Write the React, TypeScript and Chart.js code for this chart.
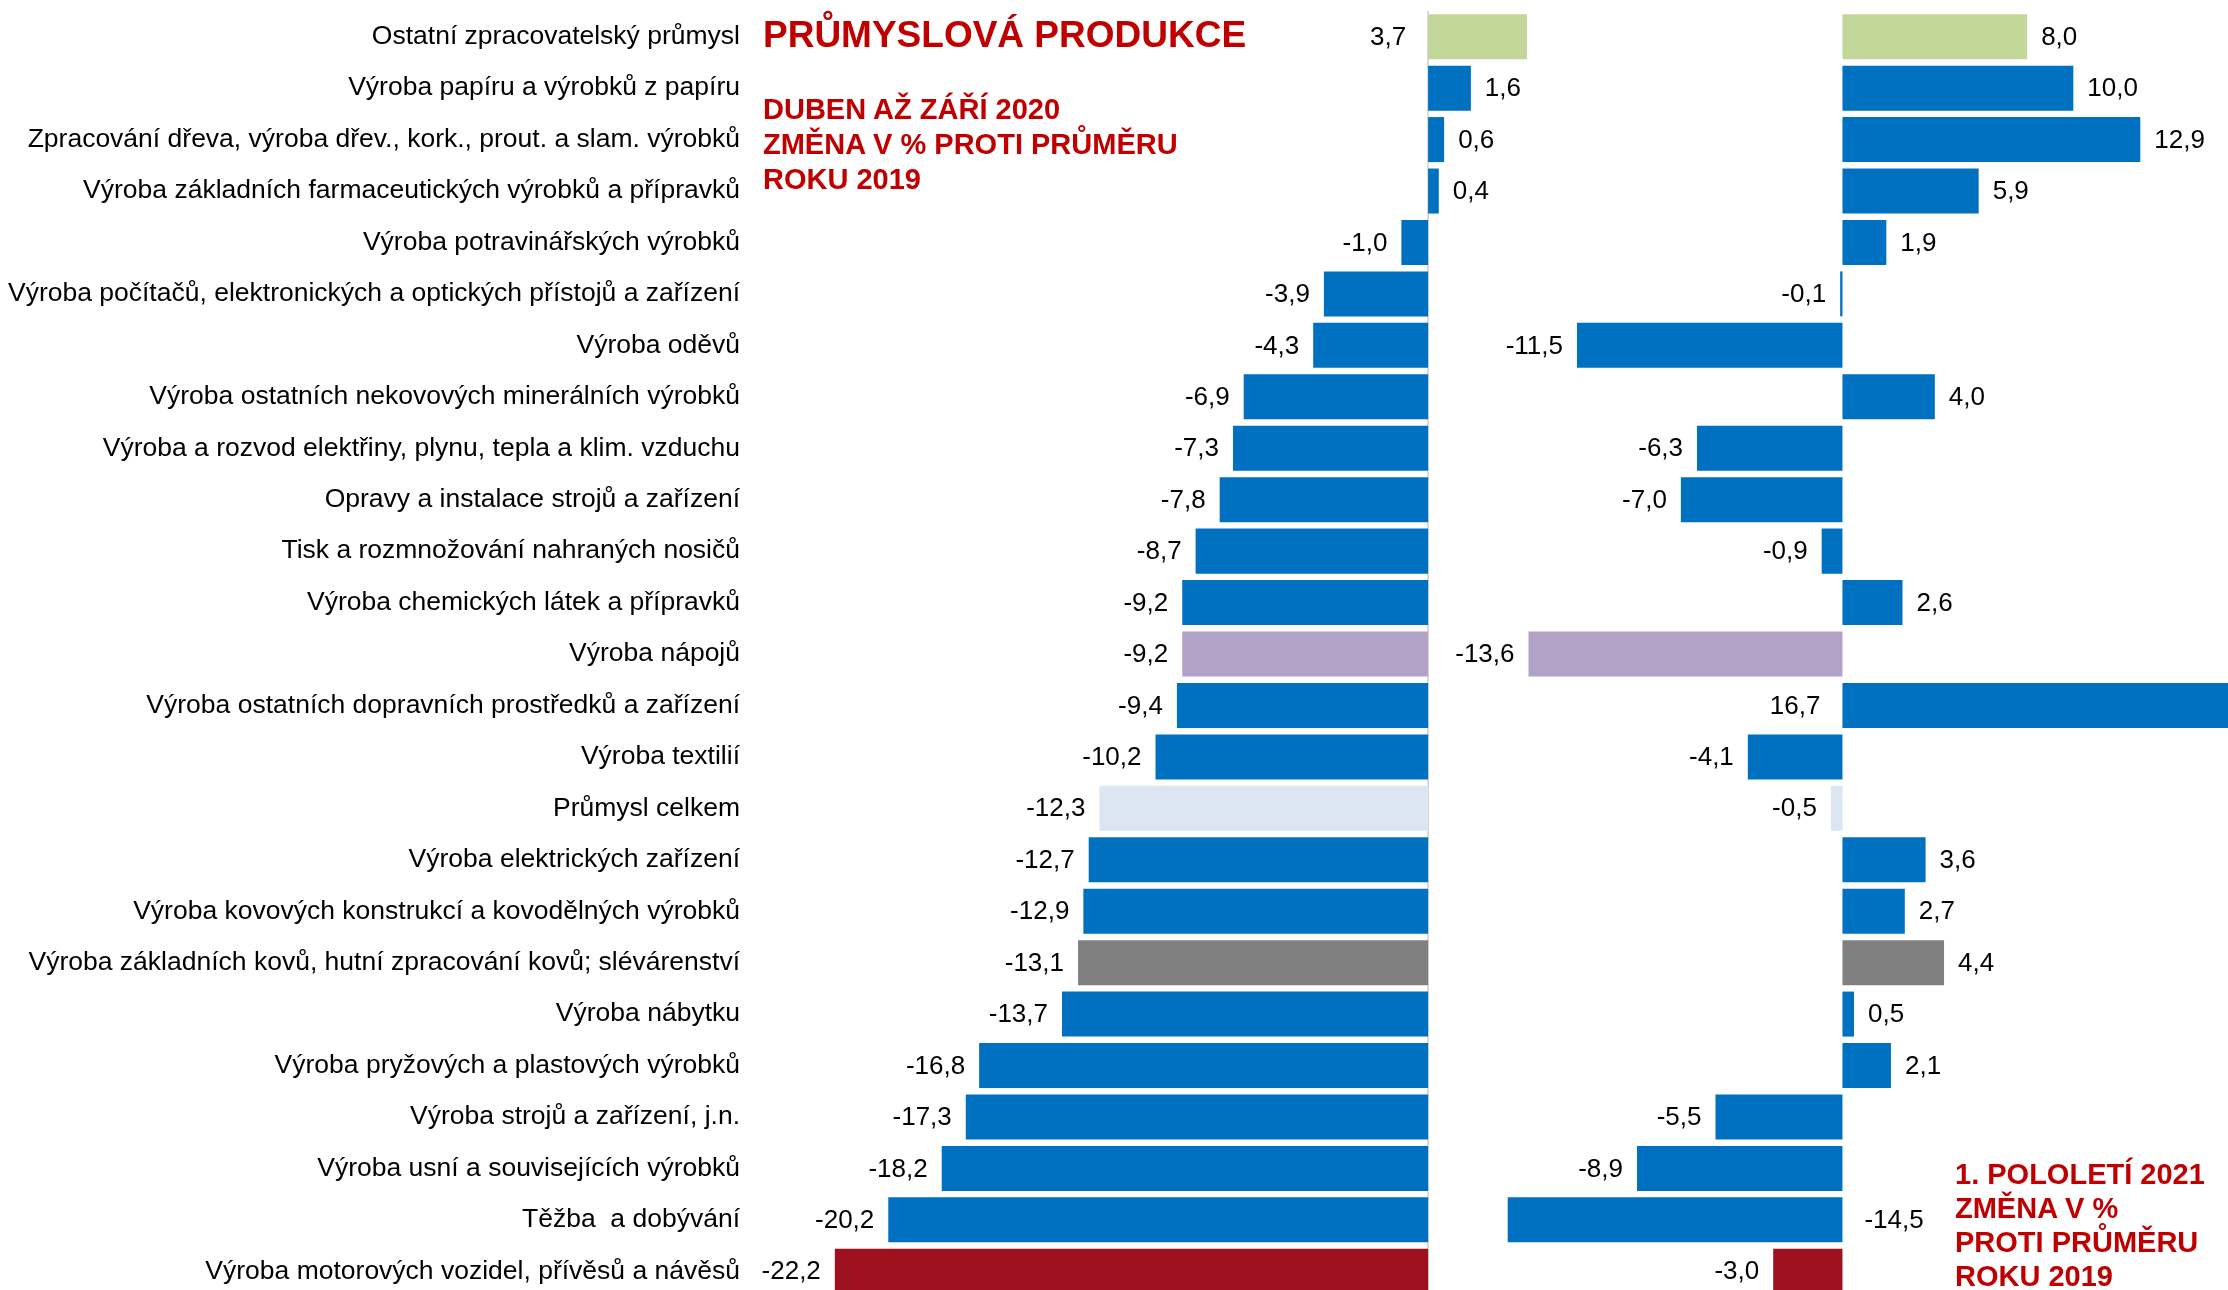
import React, { useEffect, useRef } from "react";
import { Chart, registerables } from "chart.js";

Chart.register(...registerables);

const categories = [
  "Ostatní zpracovatelský průmysl",
  "Výroba papíru a výrobků z papíru",
  "Zpracování dřeva, výroba dřev., kork., prout. a slam. výrobků",
  "Výroba základních farmaceutických výrobků a přípravků",
  "Výroba potravinářských výrobků",
  "Výroba počítačů, elektronických a optických přístojů a zařízení",
  "Výroba oděvů",
  "Výroba ostatních nekovových minerálních výrobků",
  "Výroba a rozvod elektřiny, plynu, tepla a klim. vzduchu",
  "Opravy a instalace strojů a zařízení",
  "Tisk a rozmnožování nahraných nosičů",
  "Výroba chemických látek a přípravků",
  "Výroba nápojů",
  "Výroba ostatních dopravních prostředků a zařízení",
  "Výroba textilií",
  "Průmysl celkem",
  "Výroba elektrických zařízení",
  "Výroba kovových konstrukcí a kovodělných výrobků",
  "Výroba základních kovů, hutní zpracování kovů; slévárenství",
  "Výroba nábytku",
  "Výroba pryžových a plastových výrobků",
  "Výroba strojů a zařízení, j.n.",
  "Výroba usní a souvisejících výrobků",
  "Těžba  a dobývání",
  "Výroba motorových vozidel, přívěsů a návěsů",
];

const aprSep2020 = [
  3.7, 1.6, 0.6, 0.4, -1.0, -3.9, -4.3, -6.9, -7.3, -7.8, -8.7, -9.2, -9.2,
  -9.4, -10.2, -12.3, -12.7, -12.9, -13.1, -13.7, -16.8, -17.3, -18.2, -20.2, -22.2,
];

const firstHalf2021 = [
  8.0, 10.0, 12.9, 5.9, 1.9, -0.1, -11.5, 4.0, -6.3, -7.0, -0.9, 2.6, -13.6,
  16.7, -4.1, -0.5, 3.6, 2.7, 4.4, 0.5, 2.1, -5.5, -8.9, -14.5, -3.0,
];

const titleText = "PRŮMYSLOVÁ PRODUKCE";
const leftNote = ["DUBEN AŽ ZÁŘÍ 2020", "ZMĚNA V % PROTI PRŮMĚRU", "ROKU 2019"];
const rightNote = ["1. POLOLETÍ 2021", "ZMĚNA V %", "PROTI PRŮMĚRU", "ROKU 2019"];

const BLUE = "#0070C0";
const highlight: Record<string, string> = {
  "Ostatní zpracovatelský průmysl": "#C4D79B",
  "Výroba nápojů": "#B3A2C7",
  "Průmysl celkem": "#DCE6F2",
  "Výroba základních kovů, hutní zpracování kovů; slévárenství": "#808080",
  "Výroba motorových vozidel, přívěsů a návěsů": "#A0111F",
};
const barColors = categories.map((c) => highlight[c] ?? BLUE);

const FONT = "'Liberation Sans', Arial, Helvetica, sans-serif";
const RED = "#C00000";
const H = 1297;

const fmt = (v: number) => v.toFixed(1).replace(".", ",");

const valueLabels = {
  id: "valueLabels",
  afterDatasetsDraw(chart: any) {
    const ctx = chart.ctx;
    const area = chart.chartArea;
    const xs = chart.scales.x;
    const meta = chart.getDatasetMeta(0);
    const data = chart.data.datasets[0].data as number[];
    const zero = xs.getPixelForValue(0);
    const PAD = 14;
    const FLIP = 22;
    ctx.save();
    ctx.font = `26px ${FONT}`;
    ctx.fillStyle = "#000";
    ctx.textBaseline = "middle";
    meta.data.forEach((bar: any, i: number) => {
      const v = data[i];
      const text = fmt(v);
      const w = ctx.measureText(text).width;
      const end = xs.getPixelForValue(v);
      let x: number;
      let align: CanvasTextAlign;
      if (v >= 0) {
        if (end + PAD + w <= area.right) {
          x = end + PAD;
          align = "left";
        } else {
          x = zero - FLIP;
          align = "right";
        }
      } else {
        if (end - PAD - w >= area.left) {
          x = end - PAD;
          align = "right";
        } else {
          x = zero + FLIP;
          align = "left";
        }
      }
      ctx.textAlign = align;
      ctx.fillText(text, x, bar.y + 1);
    });
    ctx.restore();
  },
};

const zeroLine = {
  id: "zeroLine",
  beforeDatasetsDraw(chart: any, _args: any, opts: any) {
    if (!opts || !opts.show) return;
    const ctx = chart.ctx;
    const x = Math.round(chart.scales.x.getPixelForValue(0));
    ctx.save();
    ctx.strokeStyle = "#D9D9D9";
    ctx.lineWidth = 2;
    ctx.beginPath();
    ctx.moveTo(x, chart.chartArea.top);
    ctx.lineTo(x, chart.chartArea.bottom);
    ctx.stroke();
    ctx.restore();
  },
};

function makeConfig(values: number[], min: number, max: number, showLabels: boolean) {
  return {
    type: "bar" as const,
    data: {
      labels: categories,
      datasets: [
        {
          data: values,
          backgroundColor: barColors,
          borderWidth: 0,
          barPercentage: 0.875,
          categoryPercentage: 1.0,
        },
      ],
    },
    options: {
      indexAxis: "y" as const,
      responsive: false,
      animation: false as const,
      layout: { padding: { top: 11, bottom: 0, left: 0, right: 0 } },
      plugins: {
        legend: { display: false },
        tooltip: { enabled: false },
        zeroLine: { show: showLabels },
      },
      scales: {
        x: { type: "linear" as const, min, max, display: false },
        y: showLabels
          ? {
              type: "category" as const,
              offset: true,
              grid: { display: false, drawTicks: false },
              border: { display: false },
              ticks: {
                color: "#000",
                autoSkip: false,
                padding: 20,
                font: { size: 26.5, family: FONT },
              },
              afterFit(scale: any) {
                scale.width = 760;
                scale.paddingTop = 0;
                scale.paddingBottom = 0;
              },
            }
          : { type: "category" as const, offset: true, display: false },
      },
    },
    plugins: [valueLabels, zeroLine],
  };
}

function BarCanvas({
  values,
  min,
  max,
  showLabels,
  left,
  width,
}: {
  values: number[];
  min: number;
  max: number;
  showLabels: boolean;
  left: number;
  width: number;
}) {
  const ref = useRef<HTMLCanvasElement>(null);
  useEffect(() => {
    if (!ref.current) return;
    const chart = new Chart(ref.current, makeConfig(values, min, max, showLabels) as any);
    return () => chart.destroy();
  }, [values, min, max, showLabels]);
  return (
    <canvas
      ref={ref}
      width={width}
      height={H}
      style={{ position: "absolute", left, top: 0, width, height: H }}
    />
  );
}

const noteStyle: React.CSSProperties = {
  position: "absolute",
  color: RED,
  fontFamily: FONT,
  fontWeight: "bold",
  fontSize: 29,
  whiteSpace: "nowrap",
};

export default function App() {
  return (
    <div
      style={{
        position: "fixed",
        left: 0,
        top: 0,
        width: 2228,
        height: 1290,
        overflow: "hidden",
        background: "#fff",
      }}
    >
      <BarCanvas values={aprSep2020} min={-25} max={4} showLabels={true} left={0} width={1535} />
      <BarCanvas values={firstHalf2021} min={-17} max={16.7} showLabels={false} left={1450} width={778} />
      <div
        style={{
          position: "absolute",
          left: 763,
          top: 16,
          color: RED,
          fontFamily: FONT,
          fontWeight: "bold",
          fontSize: 37,
          lineHeight: "37px",
          whiteSpace: "nowrap",
        }}
      >
        {titleText}
      </div>
      <div style={{ ...noteStyle, left: 763, top: 92, lineHeight: "35px" }}>
        {leftNote.map((t) => (
          <div key={t}>{t}</div>
        ))}
      </div>
      <div style={{ ...noteStyle, left: 1955, top: 1157, lineHeight: "34px" }}>
        {rightNote.map((t) => (
          <div key={t}>{t}</div>
        ))}
      </div>
    </div>
  );
}
